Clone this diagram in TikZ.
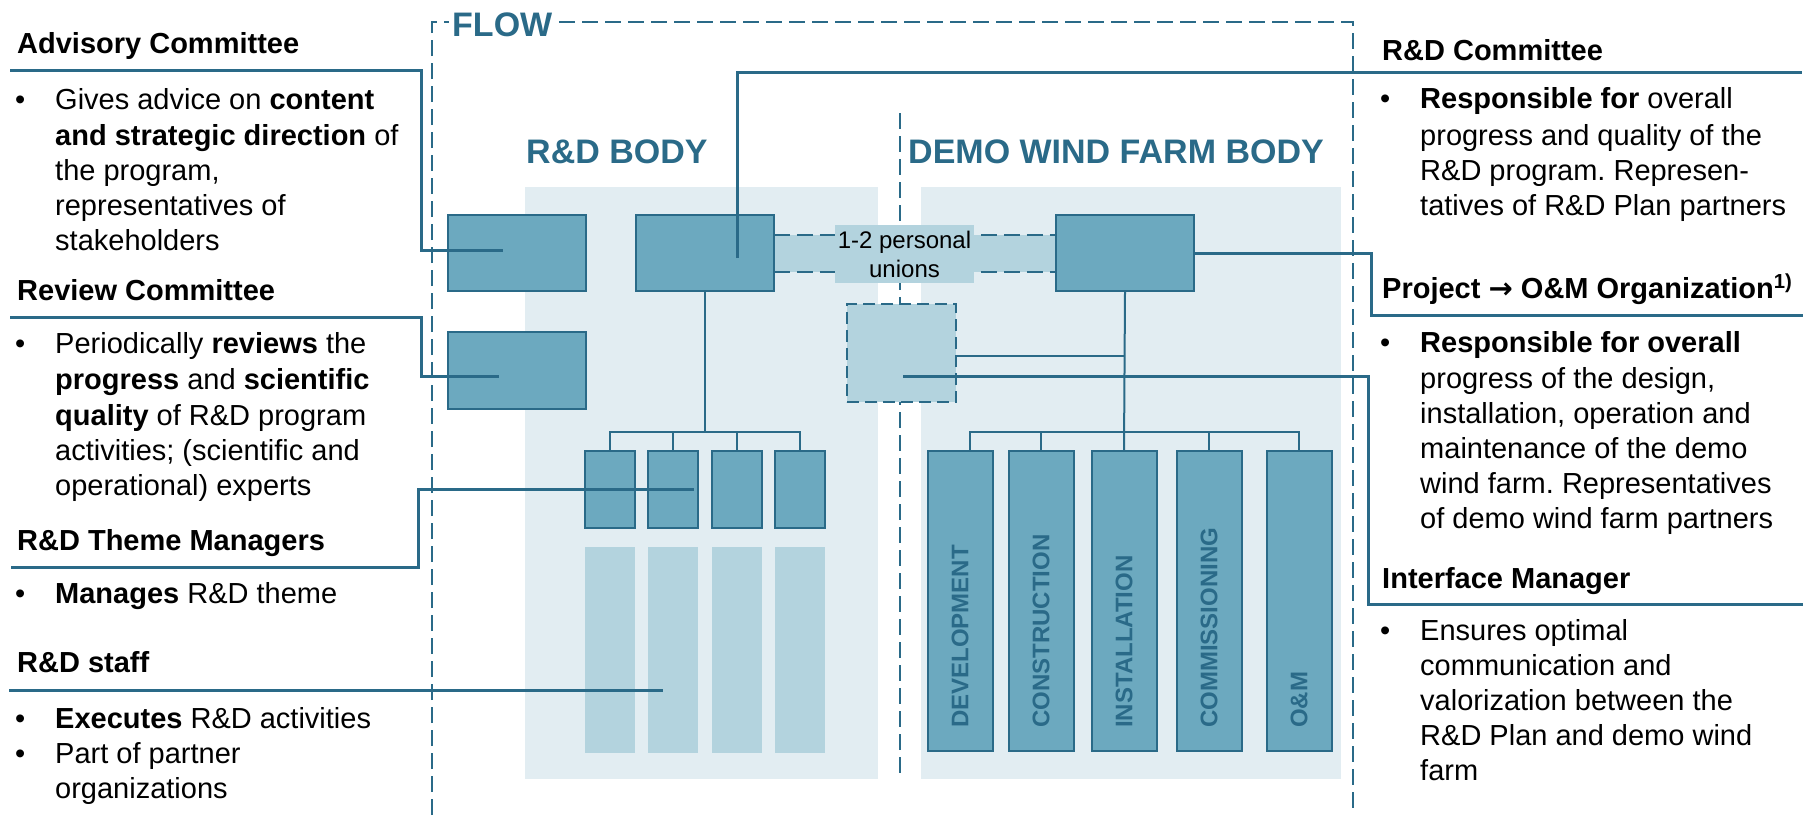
\documentclass[tikz,border=0pt]{standalone}
\usepackage{fontspec}
\setmainfont{Liberation Sans}
\newfontfamily\arrowfont{DejaVu Sans}
\definecolor{lineC}{HTML}{2A6A88}
\definecolor{boxC}{HTML}{6CA9BF}
\definecolor{lightC}{HTML}{B3D3DE}
\definecolor{bgC}{HTML}{E2EDF2}
\newcommand\tx[4]{\node[txt] (#1) at (#2,#3) {#4};}
\frenchspacing
\tikzset{
  txt/.style={anchor=base west, inner sep=0pt, font=\fontsize{29}{35}\selectfont, text=black},
  head/.style={txt, font=\fontsize{29}{35}\selectfont\bfseries},
  title/.style={anchor=base west, inner sep=0pt, font=\fontsize{34}{40}\selectfont\bfseries, text=lineC},
  conn/.style={line width=3pt, draw=lineC},
  tree/.style={line width=2pt, draw=lineC},
  dashline/.style={line width=1.8pt, draw=lineC, dash pattern=on 16pt off 7pt},
  ubox/.style={draw=lineC, fill=boxC, line width=2pt, inner sep=0pt},
  colbox/.style={fill=lightC, inner sep=0pt, minimum width=50pt, minimum height=206pt},
  vlabel/.style={rotate=90, anchor=west, inner sep=0pt, font=\fontsize{24}{24}\selectfont\bfseries, text=lineC}
}
\begin{document}
\begin{tikzpicture}[x=1pt,y=-1pt]
\useasboundingbox (0,0) rectangle (1809,815);
% backgrounds
\fill[bgC] (525,187) rectangle (878,779);
\fill[bgC] (921,187) rectangle (1341,779);
% divider
\draw[dashline] (900,113) -- (900,779);
% FLOW frame
\draw[dashline] (432,815) -- (432,22) -- (1353,22) -- (1353,815);
\node[title, fill=white, inner sep=3pt] (flow) at (449,36) {FLOW};
% titles
\node[title] (rdbody) at (526,163) {R\&D BODY};
\node[title] (demobody) at (908,163) {DEMO WIND FARM BODY};
% union band
\node[fill=lightC, inner sep=0pt, minimum width=282pt, minimum height=37pt] (union) at (915,253.5) {};
\draw[dashline] (union.north west) -- (union.north east);
\draw[dashline] (union.south west) -- (union.south east);
\node[fill=lightC, inner sep=0pt, minimum width=139pt, minimum height=58pt, align=center, font=\fontsize{24}{29}\selectfont] (unionlbl) at (904.5,254) {1-2 personal\\unions};
% interface box
\node[fill=lightC, draw=lineC, line width=1.8pt, dash pattern=on 12pt off 6pt, inner sep=0pt, minimum width=109pt, minimum height=98pt] (ifbox) at (901.5,353) {};
% main boxes
\node[ubox, minimum width=138pt, minimum height=76pt] (adv) at (517,253) {};
\node[ubox, minimum width=138pt, minimum height=77pt] (rev) at (517,370.5) {};
\node[ubox, minimum width=138pt, minimum height=76pt] (rdc) at (705,253) {};
\node[ubox, minimum width=138pt, minimum height=76pt] (demo) at (1125,253) {};
% theme boxes and staff columns
\foreach \i/\xx in {1/610,2/673,3/737,4/800}{
  \node[ubox, minimum width=50pt, minimum height=77pt] (th\i) at (\xx,489.5) {};
  \node[colbox] (st\i) at (\xx,650) {};
}
% demo columns
\foreach \i/\xx in {1/960,2/1041,3/1124,4/1209,5/1299}{
  \node[ubox, minimum width=65pt, minimum height=300pt] (dc\i) at (\xx,601) {};
}
\node[vlabel] (l1) at (dc1.center |- 0,728) {DEVELOPMENT};
\node[vlabel] (l2) at (dc2.center |- 0,728) {CONSTRUCTION};
\node[vlabel] (l3) at (dc3.center |- 0,728) {INSTALLATION};
\node[vlabel] (l4) at (dc4.center |- 0,728) {COMMISSIONING};
\node[vlabel] (l5) at (dc5.center |- 0,728) {O\&M};
% trees
\coordinate (bar) at (0,432);
\draw[tree] (rdc.south) -- (rdc.south |- bar);
\draw[tree] (th1.north) -- (th1.north |- bar) -- (th4.north |- bar) -- (th4.north);
\draw[tree] (th2.north) -- (th2.north |- bar);
\draw[tree] (th3.north) -- (th3.north |- bar);
\draw[tree] (demo.south) -- (dc3.north);
\coordinate (dc1t) at (970,451);
\draw[tree] (dc1t) -- (dc1t |- bar) -- (dc5.north |- bar) -- (dc5.north);
\draw[tree] (dc2.north) -- (dc2.north |- bar);
\draw[tree] (dc4.north) -- (dc4.north |- bar);
\coordinate (y356) at (0,356);
\draw[tree] (ifbox.east |- y356) -- (demo.south |- y356);
% connectors
\coordinate (advS) at (10,70);
\coordinate (advE) at (503,250);
\draw[conn] (advS) -- (421,70) |- (advE);
\coordinate (revS) at (10,317);
\coordinate (revE) at (499,376);
\draw[conn] (revS) -- (421,317) |- (revE);
\coordinate (thS) at (11,567);
\coordinate (thE) at (694,489);
\draw[conn] (thS) -- (418,567) |- (thE);
\coordinate (stS) at (9,690);
\coordinate (stE) at (663,690);
\draw[conn] (stS) -- (stE);
\coordinate (rdcS) at (737,258);
\coordinate (rdcE) at (1802,72);
\draw[conn] (rdcS) |- (rdcE);
\coordinate (demoE) at (1803,315);
\draw[conn] (demo.east) -- (1371,253) |- (demoE);
\coordinate (ifS) at (903,376);
\coordinate (ifE) at (1803,604);
\draw[conn] (ifS) -- (1368,376) |- (ifE);
% left texts
\node[head] (h1) at (17,53) {Advisory Committee};
\tx{b1}{15}{109}{•}
\tx{t11}{55}{109}{Gives advice on \textbf{content}}
\tx{t12}{55}{145}{\textbf{and strategic direction} of}
\tx{t13}{55}{180}{the program,}
\tx{t14}{55}{215}{representatives of}
\tx{t15}{55}{250}{stakeholders}
\node[head] (h2) at (17,300) {Review Committee};
\tx{b2}{15}{353}{•}
\tx{t21}{55}{353}{Periodically \textbf{reviews} the}
\tx{t22}{55}{389}{\textbf{progress} and \textbf{scientific}}
\tx{t23}{55}{425}{\textbf{quality} of R\&D program}
\tx{t24}{55}{460}{activities; (scientific and}
\tx{t25}{55}{495}{operational) experts}
\node[head] (h3) at (17,550) {R\&D Theme Managers};
\tx{b3}{15}{603}{•}
\tx{t31}{55}{603}{\textbf{Manages} R\&D theme}
\node[head] (h4) at (17,672) {R\&D staff};
\tx{b4}{15}{728}{•}
\tx{t41}{55}{728}{\textbf{Executes} R\&D activities}
\tx{b5}{15}{763}{•}
\tx{t42}{55}{763}{Part of partner}
\tx{t43}{55}{798}{organizations}
% right texts
\node[head] (h5) at (1382,60) {R\&D Committee};
\tx{b6}{1380}{108}{•}
\tx{t51}{1420}{108}{\textbf{Responsible for} overall}
\tx{t52}{1420}{145}{progress and quality of the}
\tx{t53}{1420}{180}{R\&D program. Represen-}
\tx{t54}{1420}{215}{tatives of R\&D Plan partners}
\node[head] (h6) at (1382,298) {Project {\arrowfont\bfseries →} O\&M Organization\textsuperscript{1)}};
\tx{b7}{1380}{352}{•}
\tx{t61}{1420}{352}{\textbf{Responsible for overall}}
\tx{t62}{1420}{388}{progress of the design,}
\tx{t63}{1420}{423}{installation, operation and}
\tx{t64}{1420}{458}{maintenance of the demo}
\tx{t65}{1420}{493}{wind farm. Representatives}
\tx{t66}{1420}{528}{of demo wind farm partners}
\node[head] (h7) at (1382,588) {Interface Manager};
\tx{b8}{1380}{640}{•}
\tx{t71}{1420}{640}{Ensures optimal}
\tx{t72}{1420}{675}{communication and}
\tx{t73}{1420}{710}{valorization between the}
\tx{t74}{1420}{745}{R\&D Plan and demo wind}
\tx{t75}{1420}{780}{farm}
\end{tikzpicture}
\end{document}
